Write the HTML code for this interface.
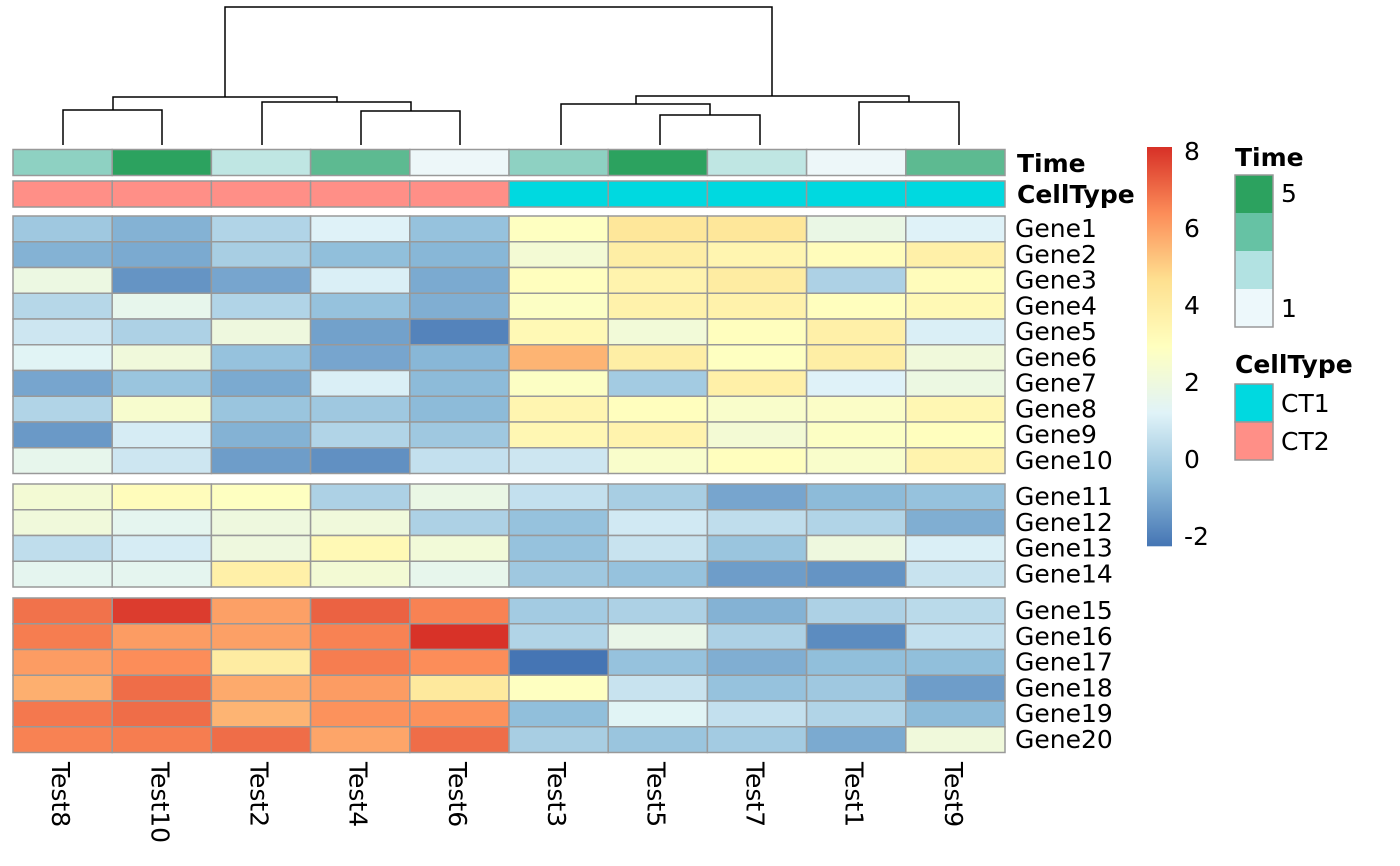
<!DOCTYPE html><html><head><meta charset="utf-8"><style>body{margin:0;background:#fff}svg{display:block}text{font-family:"DejaVu Sans","Liberation Sans",sans-serif;font-size:25px;fill:#000}.b{font-weight:bold}</style></head><body>
<svg id="s" width="1400" height="866" xmlns="http://www.w3.org/2000/svg">
<g id="cells"></g>
<g stroke="#000" stroke-width="1.5" fill="none">
<path d="M225,97V7H772V96"/>
<path d="M113,110V97H337V102"/>
<path d="M63,145V110H162V145"/>
<path d="M262,145V102H411V111"/>
<path d="M361,145V111H460V145"/>
<path d="M636,104V96H909V102"/>
<path d="M561,145V104H710V115"/>
<path d="M660,145V115H760V145"/>
<path d="M859,145V102H959V145"/>
</g>
<text x="1017" y="172" class="b">Time</text>
<text x="1017" y="203" class="b">CellType</text>
<g id="gl"></g>
<g id="tl"></g>
<g id="bar"></g>
<g>
<text x="1184" y="160">8</text><text x="1184" y="237">6</text><text x="1184" y="314">4</text><text x="1184" y="391">2</text><text x="1184" y="468">0</text><text x="1184" y="545">-2</text>
</g>
<text x="1235" y="166" class="b">Time</text>
<rect x="1235" y="175" width="38" height="38" fill="#2CA25F"/>
<rect x="1235" y="213" width="38" height="38" fill="#66C2A4"/>
<rect x="1235" y="251" width="38" height="38" fill="#B2E2E2"/>
<rect x="1235" y="289" width="38" height="38" fill="#EDF8FB"/>
<rect x="1235" y="175" width="38" height="152" fill="none" stroke="#999" stroke-width="1.5"/>
<text x="1281" y="202">5</text><text x="1281" y="317">1</text>
<text x="1235" y="373" class="b">CellType</text>
<rect x="1235" y="384" width="38" height="38" fill="#00D9E0" stroke="#999" stroke-width="1.5"/>
<rect x="1235" y="422" width="38" height="38" fill="#FF8F87" stroke="#999" stroke-width="1.5"/>
<text x="1281" y="412">CT1</text><text x="1281" y="450">CT2</text>
</svg>
<script>
var V=[[-0.2,-0.8,0.2,1.2,-0.4,2.9,4.3,4.3,1.8,1.2],
[-0.8,-1.0,0,-0.5,-0.7,2.3,3.9,3.5,3.1,3.8],
[1.9,-1.5,-1.1,1.1,-1.0,3.0,3.6,4.0,0.1,3.1],
[0.3,1.6,0.2,-0.4,-0.9,2.8,3.7,3.7,3.0,3.3],
[0.8,0.1,2.0,-1.2,-1.9,3.3,2.2,3.0,3.8,1.1],
[1.3,2.1,-0.4,-1.1,-0.7,5.6,3.9,2.9,3.9,2.1],
[-1.1,-0.3,-1.0,1.1,-0.6,2.8,-0.1,3.8,1.2,1.9],
[0.2,2.5,-0.3,-0.2,-0.6,3.5,3.0,2.6,2.7,3.4],
[-1.4,1.0,-0.8,0.2,-0.2,3.4,3.6,2.3,2.8,3.0],
[1.6,0.8,-1.3,-1.6,0.6,0.8,2.6,3.0,2.6,3.6],
[2.3,3.1,2.9,0.1,1.8,0.6,0,-1.1,-0.6,-0.4],
[2.1,1.5,2.0,2.1,0.1,-0.4,0.9,0.5,0.2,-0.9],
[0.5,1.0,2.0,3.3,2.2,-0.4,0.7,-0.3,2.0,1.1],
[1.5,1.5,3.8,2.3,1.6,-0.2,-0.4,-1.3,-1.5,0.7],
[6.9,7.9,6.0,7.2,6.6,-0.1,0.1,-0.8,0.1,0.4],
[6.7,6.1,6.0,6.6,8.1,0.2,1.7,0.1,-1.7,0.6],
[6.1,6.4,4.0,6.7,6.4,-2.3,-0.4,-0.9,-0.5,-0.5],
[5.7,7.0,5.8,6.1,4.2,2.9,0.7,-0.4,-0.2,-1.3],
[6.8,7.0,5.6,6.3,6.3,-0.5,1.3,0.6,0.2,-0.6],
[6.6,6.7,7.0,5.9,7.0,0,-0.3,-0.1,-1.0,2.1]];
var P=[[69,117,180],[145,191,219],[224,243,248],[255,255,191],[254,224,144],[252,141,89],[215,48,39]];
var lo=-2.23,hi=8.13;
function col(v){var t=(v-lo)/(hi-lo);t=Math.max(0,Math.min(1,t))*6;var i=Math.min(5,Math.floor(t)),f=t-i;var c=[0,1,2].map(function(k){return Math.round(P[i][k]+(P[i+1][k]-P[i][k])*f)});return"rgb("+c+")"}
var ns="http://www.w3.org/2000/svg";
function R(g,x,y,w,h,f,st){var r=document.createElementNS(ns,"rect");r.setAttribute("x",x);r.setAttribute("y",y);r.setAttribute("width",w);r.setAttribute("height",h);r.setAttribute("fill",f);if(st){r.setAttribute("stroke","#999");r.setAttribute("stroke-width","1.5")}g.appendChild(r)}
function T(g,x,y,s,tr){var t=document.createElementNS(ns,"text");t.setAttribute("x",x);t.setAttribute("y",y);if(tr)t.setAttribute("transform",tr);t.textContent=s;g.appendChild(t)}
var g=document.getElementById("cells"),cw=99.2,x0=13,rh=25.75;
var tc=["#8ED1C2","#2CA25F","#BFE6E3","#5DBA91","#EDF7F9","#8ED1C2","#2CA25F","#BFE6E3","#EDF7F9","#5DBA91"];
var names=["Test8","Test10","Test2","Test4","Test6","Test3","Test5","Test7","Test1","Test9"];
for(var j=0;j<10;j++){R(g,x0+j*cw,149.5,cw,26,tc[j],1);R(g,x0+j*cw,181,cw,26,j<5?"#FF8F87":"#00D9E0",1);}
var gl=document.getElementById("gl");
for(var i=0;i<20;i++){var y=i<10?216+i*rh:(i<14?484+(i-10)*rh:598+(i-14)*rh);
for(var j=0;j<10;j++)R(g,x0+j*cw,y,cw,rh,col(V[i][j]),1);
T(gl,1015,y+21,"Gene"+(i+1));}
var tl=document.getElementById("tl");
for(var j=0;j<10;j++){var cx=x0+(j+.5)*cw-10.5;T(tl,cx,762,names[j],"rotate(90 "+cx+" 762)");}
var b=document.getElementById("bar");
for(var k=0;k<399;k++){var v=hi-(k+.5)/399*(hi-lo);R(b,1147,147+k,25,1.3,col(v),0);}
</script>
</body></html>
